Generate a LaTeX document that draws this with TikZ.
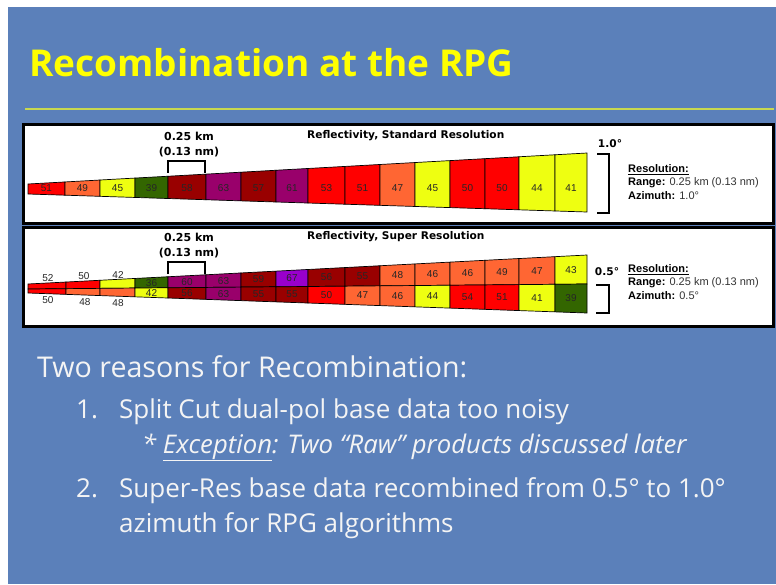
\documentclass[tikz,border=0pt]{standalone}
\usepackage{fontspec}
\setmainfont{Open Sans}
\newfontfamily\diag{Liberation Sans}
\newfontfamily\diagb{DejaVu Sans}
\newfontfamily\titlefont{Open Sans}
\definecolor{bgblue}{HTML}{5B80BA}
\definecolor{titley}{HTML}{FFFF00}
\definecolor{rulecol}{HTML}{C8D850}
\definecolor{bodytxt}{HTML}{F4F4F4}
\definecolor{cR}{HTML}{FF0000}
\definecolor{cO}{HTML}{FF6633}
\definecolor{cY}{HTML}{EEFF11}
\definecolor{cG}{HTML}{336600}
\definecolor{cD}{HTML}{990000}
\definecolor{cP}{HTML}{99006B}
\definecolor{cV}{HTML}{9900CC}
\definecolor{valgray}{HTML}{333333}
\tikzset{
  cell/.style={draw=black, line width=0.7pt},
  num/.style={font=\diag\fontsize{10}{11}\selectfont, inner sep=0pt, text=black!85},
  lbl/.style={font=\diagb\bfseries\fontsize{10.6}{12}\selectfont, inner sep=0pt},
  brk/.style={draw=black, line width=2.4pt},
  panel/.style={draw=black, line width=3pt, fill=white},
  res/.style={font=\diag\fontsize{11}{12}\selectfont, inner sep=0pt, anchor=west, text=valgray},
  body/.style={font=\fontsize{26}{30}\selectfont, inner sep=0pt, anchor=base west, text=bodytxt}
}
\begin{document}
\begin{tikzpicture}[x=1pt,y=-1pt]
\useasboundingbox (0,0) rectangle (776,584);
\fill[white] (0,0) rectangle (776,584);
\fill[bgblue] (8,7) rectangle (776,584);
% title
\node[anchor=base west, inner sep=0pt, text=titley, font=\titlefont\bfseries\fontsize{37}{40}\selectfont] (title) at (29,76) {Recombination at the RPG};
\draw[rulecol, line width=1.3pt] (25,109) -- (774,109);
% panels
\draw[panel] (23.5,124.5) rectangle (773.5,223);
\draw[panel] (23.5,227.5) rectangle (773.5,326.5);
% ---------- standard resolution strip
\foreach \a/\b/\c/\v [count=\i] in {28/65/cR/51, 65/100/cO/49, 100/135/cY/45, 135/168/cG/39, 168/206/cD/58, 206/241/cP/63, 241/276/cD/57, 276/308/cP/61, 308/345/cR/53, 345/380/cR/51, 380/415/cO/47, 415/450/cY/45, 450/485/cR/50, 485/519/cR/50, 519/555/cY/44, 555/587/cY/41}{
  \pgfmathsetmacro\fa{(\a-28)/559}
  \pgfmathsetmacro\fb{(\b-28)/559}
  \pgfmathsetmacro\ta{184-31*\fa}
  \pgfmathsetmacro\tb{184-31*\fb}
  \pgfmathsetmacro\ba{194+18*\fa}
  \pgfmathsetmacro\bb{194+18*\fb}
  \pgfmathsetmacro\mx{(\a+\b)/2}
  \draw[cell, fill=\c] (\a,\ta) -- (\b,\tb) -- (\b,\bb) -- (\a,\ba) -- cycle;
  \node[num] (s\i) at (\mx,188.5) {\v};
}
\node[lbl, font=\diagb\bfseries\fontsize{11}{12}\selectfont] (km1) at (189,136) {0.25 km};
\node[lbl, font=\diagb\bfseries\fontsize{11}{12}\selectfont] (nm1) at (189,152) {(0.13 nm)};
\draw[brk] (168,172.5) -- (168,161) -- (205,161) -- (205,172.5);
\node[lbl, anchor=west] (ttl1) at (307,136) {Reflectivity, Standard Resolution};
\draw[brk] (597,154) -- (609,154) -- (609,213) -- (597,213);
\node[lbl] (deg1) at (610,144) {1.0°};
\node[res, text=black, font=\diag\bfseries\fontsize{11}{12}\selectfont] (r1) at (628,170) {\underline{Resolution:}};
\node[res] (r2) at (628,183) {\textcolor{black}{\bfseries Range:} 0.25 km (0.13 nm)};
\node[res] (r3) at (628,196) {\textcolor{black}{\bfseries Azimuth:} 1.0°};
% ---------- super resolution strip
% tip cells
\foreach \a/\b/\c/\d [count=\i] in {28/66/cR/cR, 66/100/cR/cO, 100/135/cY/cO}{
  \pgfmathsetmacro\fa{(\a-28)/559}
  \pgfmathsetmacro\fb{(\b-28)/559}
  \pgfmathsetmacro\ta{284-29*\fa}
  \pgfmathsetmacro\tb{284-29*\fb}
  \pgfmathsetmacro\ma{289-5*\fa}
  \pgfmathsetmacro\mb{289-5*\fb}
  \pgfmathsetmacro\ba{293+20*\fa}
  \pgfmathsetmacro\bb{293+20*\fb}
  \draw[cell, fill=\c] (\a,\ta) -- (\b,\tb) -- (\b,\mb) -- (\a,\ma) -- cycle;
  \draw[cell, fill=\d] (\a,\ma) -- (\b,\mb) -- (\b,\bb) -- (\a,\ba) -- cycle;
}
\node[num] (u1) at (48,278) {52};
\node[num] (u2) at (84,276) {50};
\node[num] (u3) at (118,275) {42};
\node[num] (l1) at (48,300) {50};
\node[num] (l2) at (85,302) {48};
\node[num] (l3) at (118,303) {48};
\foreach \a/\b/\c/\v/\d/\w [count=\i] in {135/168/cG/36/cY/42, 168/206/cP/60/cD/56, 206/241/cP/63/cP/63, 241/276/cD/59/cD/55, 276/308/cV/67/cD/55, 308/345/cD/56/cR/50, 345/380/cD/55/cO/47, 380/415/cO/48/cO/46, 415/450/cO/46/cY/44, 450/485/cO/46/cR/54, 485/519/cO/49/cR/51, 519/555/cO/47/cY/41, 555/587/cY/43/cG/39}{
  \pgfmathsetmacro\fa{(\a-28)/559}
  \pgfmathsetmacro\fb{(\b-28)/559}
  \pgfmathsetmacro\ta{284-29*\fa}
  \pgfmathsetmacro\tb{284-29*\fb}
  \pgfmathsetmacro\ma{289-5*\fa}
  \pgfmathsetmacro\mb{289-5*\fb}
  \pgfmathsetmacro\ba{293+20*\fa}
  \pgfmathsetmacro\bb{293+20*\fb}
  \pgfmathsetmacro\mx{(\a+\b)/2}
  \pgfmathsetmacro\ty{(\ta+\tb+\ma+\mb)/4}
  \pgfmathsetmacro\by{(\ma+\mb+\ba+\bb)/4}
  \draw[cell, fill=\c] (\a,\ta) -- (\b,\tb) -- (\b,\mb) -- (\a,\ma) -- cycle;
  \draw[cell, fill=\d] (\a,\ma) -- (\b,\mb) -- (\b,\bb) -- (\a,\ba) -- cycle;
  \node[num] (sa\i) at (\mx,\ty) {\v};
  \node[num] (sb\i) at (\mx,\by) {\w};
}
\node[lbl, font=\diagb\bfseries\fontsize{11}{12}\selectfont] (km2) at (189,237) {0.25 km};
\node[lbl, font=\diagb\bfseries\fontsize{11}{12}\selectfont] (nm2) at (189,253) {(0.13 nm)};
\draw[brk] (168,273.5) -- (168,262) -- (205,262) -- (205,273.5);
\node[lbl, anchor=west] (ttl2) at (307,237) {Reflectivity, Super Resolution};
\draw[brk] (596,285) -- (609,285) -- (609,313) -- (596,313);
\node[lbl] (deg2) at (607,272) {0.5°};
\node[res, text=black, font=\diag\bfseries\fontsize{11}{12}\selectfont] (r4) at (628,270) {\underline{Resolution:}};
\node[res] (r5) at (628,283) {\textcolor{black}{\bfseries Range:} 0.25 km (0.13 nm)};
\node[res] (r6) at (628,296) {\textcolor{black}{\bfseries Azimuth:} 0.5°};
% ---------- body text
\node[body, font=\fontsize{28.6}{32}\selectfont] (b0) at (37,377) {Two reasons for Recombination:};
\node[body] (b1n) at (76,418) {1.};
\node[body] (b1) at (119,418) {Split Cut dual-pol base data too noisy};
\node[body, font=\itshape\fontsize{25.7}{30}\selectfont] (b1e) at (142,453) {* \underline{Exception}: Two “Raw” products discussed later};
\node[body] (b2n) at (76,497) {2.};
\node[body] (b2) at (119,497) {Super-Res base data recombined from 0.5° to 1.0°};
\node[body] (b3) at (119,532) {azimuth for RPG algorithms};
\end{tikzpicture}
\end{document}
